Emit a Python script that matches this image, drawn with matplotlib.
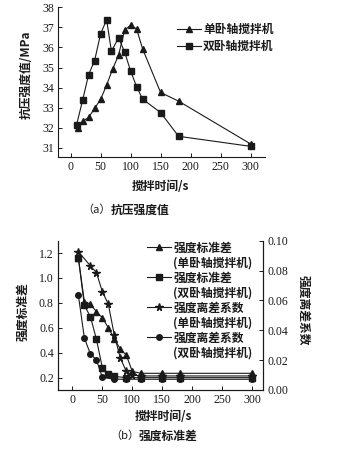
import matplotlib
matplotlib.use("Agg")
import matplotlib.pyplot as plt
from matplotlib.lines import Line2D

plt.rcParams['font.family'] = ['Liberation Serif', 'Noto Sans CJK SC']
CJK = ['Noto Sans CJK SC', 'DejaVu Sans']
INK = '#1a1a1a'
BW = 'heavy'

# ---- (a) compressive strength ----
x_single = [12, 20, 30, 40, 50, 60, 70, 80, 90, 100, 110, 120, 150, 180, 300]
y_single = [31.98, 32.32, 32.52, 32.97, 33.42, 34.13, 34.92, 35.63, 36.85, 37.12, 36.92, 35.93, 33.76, 33.33, 31.2]
x_double = [10, 20, 30, 40, 50, 60, 68, 80, 90, 100, 110, 120, 150, 180, 300]
y_double = [32.15, 33.38, 34.65, 35.35, 36.68, 37.38, 35.82, 36.48, 35.78, 34.83, 34.05, 33.43, 32.76, 31.58, 31.08]
labels_a = ['单卧轴搅拌机', '双卧轴搅拌机']
xticks = [0, 50, 100, 150, 200, 250, 300]
yticks_a = [31, 32, 33, 34, 35, 36, 37, 38]

# ---- (b) standard deviation / dispersion coefficient ----
x_sd_single = [10, 20, 30, 40, 50, 60, 70, 80, 90, 100, 115, 150, 180, 300]
sd_single = [1.16, 0.81, 0.79, 0.73, 0.68, 0.60, 0.51, 0.43, 0.38, 0.25, 0.235, 0.235, 0.235, 0.235]
x_sd_double = [10, 20, 30, 40, 50, 60, 70, 90, 115, 150, 180, 300]
sd_double = [1.16, 0.78, 0.69, 0.51, 0.28, 0.23, 0.21, 0.20, 0.20, 0.20, 0.20, 0.20]
x_cv_single = [10, 30, 40, 50, 60, 70, 80, 90, 100, 115, 150, 180, 300]
cv_single = [0.0926, 0.0832, 0.0787, 0.0659, 0.0574, 0.0366, 0.0215, 0.0124, 0.0100, 0.0094, 0.0094, 0.0094, 0.0094]
x_cv_double = [10, 20, 30, 40, 50, 70, 90, 115, 150, 180, 300]
cv_double = [0.0635, 0.0348, 0.0242, 0.0202, 0.0085, 0.0072, 0.0072, 0.0072, 0.0072, 0.0072, 0.0072]
labels_b = ['强度标准差', '(单卧轴搅拌机)', '强度标准差', '(双卧轴搅拌机)',
            '强度离差系数', '(单卧轴搅拌机)', '强度离差系数', '(双卧轴搅拌机)']
yticks_b = [0.2, 0.4, 0.6, 0.8, 1.0, 1.2]
yticks_b2 = [0.00, 0.02, 0.04, 0.06, 0.08, 0.10]

W, H = 343, 454
fig = plt.figure(figsize=(W / 100, H / 100), dpi=100)

def frac(l, t, r, b):
    return [l / W, 1 - b / H, (r - l) / W, (b - t) / H]

lw = 0.8
tick_kw = dict(direction='in', length=3, width=0.7, labelsize=8.5, colors=INK, pad=3)

# ---------------- top ----------------
ax1 = fig.add_axes(frac(58, 7.3, 265, 157))
ax1.plot(x_single, y_single, color=INK, lw=lw, marker='^', ms=4.2, label=labels_a[0])
ax1.plot(x_double, y_double, color=INK, lw=lw, marker='s', ms=3.8, label=labels_a[1])
ax1.set_xlim(-21, 324)
ax1.set_ylim(30.55, 38)
ax1.set_xticks(xticks)
ax1.set_yticks(yticks_a)
for s in ['top', 'right']:
    ax1.spines[s].set_visible(False)
for s in ['left', 'bottom']:
    ax1.spines[s].set_linewidth(0.8)
    ax1.spines[s].set_color(INK)
ax1.tick_params(**tick_kw)
leg1 = ax1.legend(loc='upper left', bbox_to_anchor=(0.575, 0.895), frameon=False,
                  prop=dict(family=CJK, weight=BW, size=8.5), handlelength=2.0,
                  handletextpad=0.2, labelspacing=0.35, borderpad=0, borderaxespad=0)
for t in leg1.get_texts():
    t.set_color(INK)
fig.text(26 / W, 1 - 75 / H, '抗压强度值/MPa', rotation=90, ha='center', va='center',
         family=CJK, weight=BW, size=8.5, color=INK)
fig.text(160 / W, 1 - 186 / H, '搅拌时间/s', ha='center', va='center',
         family=CJK, weight=BW, size=8.5, color=INK)
fig.text(111 / W, 1 - 210 / H, '（a）', ha='right', va='center',
         family=CJK, size=8, color=INK)
fig.text(111 / W, 1 - 210 / H, '抗压强度值', ha='left', va='center',
         family=CJK, weight=BW, size=8.5, color=INK)

# ---------------- bottom ----------------
ax2 = fig.add_axes(frac(58, 240.7, 263, 390))
ax3 = ax2.twinx()
h1, = ax2.plot(x_sd_single, sd_single, color=INK, lw=lw, marker='^', ms=4.2)
h2, = ax2.plot(x_sd_double, sd_double, color=INK, lw=lw, marker='s', ms=3.8)
h3, = ax3.plot(x_cv_single, cv_single, color=INK, lw=lw, marker='*', ms=5.5)
h4, = ax3.plot(x_cv_double, cv_double, color=INK, lw=lw, marker='o', ms=4.0)
ax2.set_xlim(-24, 318)
ax2.set_ylim(0.101, 1.299)
ax3.set_ylim(0.0, 0.10)
ax2.set_xticks(xticks)
ax2.set_yticks(yticks_b)
ax2.set_yticklabels([f'{v:.1f}' for v in yticks_b])
ax3.set_yticks(yticks_b2)
ax3.set_yticklabels([f'{v:.2f}' for v in yticks_b2])
for a in (ax2, ax3):
    a.spines['top'].set_visible(False)
    for s in ['left', 'bottom', 'right']:
        a.spines[s].set_linewidth(0.8)
        a.spines[s].set_color(INK)
ax2.tick_params(**tick_kw)
ax3.tick_params(**tick_kw)

blank = Line2D([], [], color='none')
handles = [h1, blank, h2, blank, h3, blank, h4, blank]
leg2 = ax3.legend(handles, labels_b, loc='upper left', bbox_to_anchor=(0.435, 0.995),
                  frameon=False, prop=dict(family=CJK, weight=BW, size=8.5),
                  handlelength=2.0, handletextpad=0.2, labelspacing=0.17,
                  borderpad=0, borderaxespad=0)
for t in leg2.get_texts():
    t.set_color(INK)
fig.text(23 / W, 1 - 312 / H, '强度标准差', rotation=90, ha='center', va='center',
         family=CJK, weight=BW, size=8.5, color=INK)
fig.text(303 / W, 1 - 310 / H, '强度离差系数', rotation=-90, ha='center', va='center',
         family=CJK, weight=BW, size=8.5, color=INK)
fig.text(163 / W, 1 - 416.5 / H, '搅拌时间/s', ha='center', va='center',
         family=CJK, weight=BW, size=8.5, color=INK)
fig.text(139 / W, 1 - 436 / H, '（b）', ha='right', va='center',
         family=CJK, size=8, color=INK)
fig.text(139 / W, 1 - 436 / H, '强度标准差', ha='left', va='center',
         family=CJK, weight=BW, size=8.5, color=INK)

fig.savefig('out.png', dpi=100)
